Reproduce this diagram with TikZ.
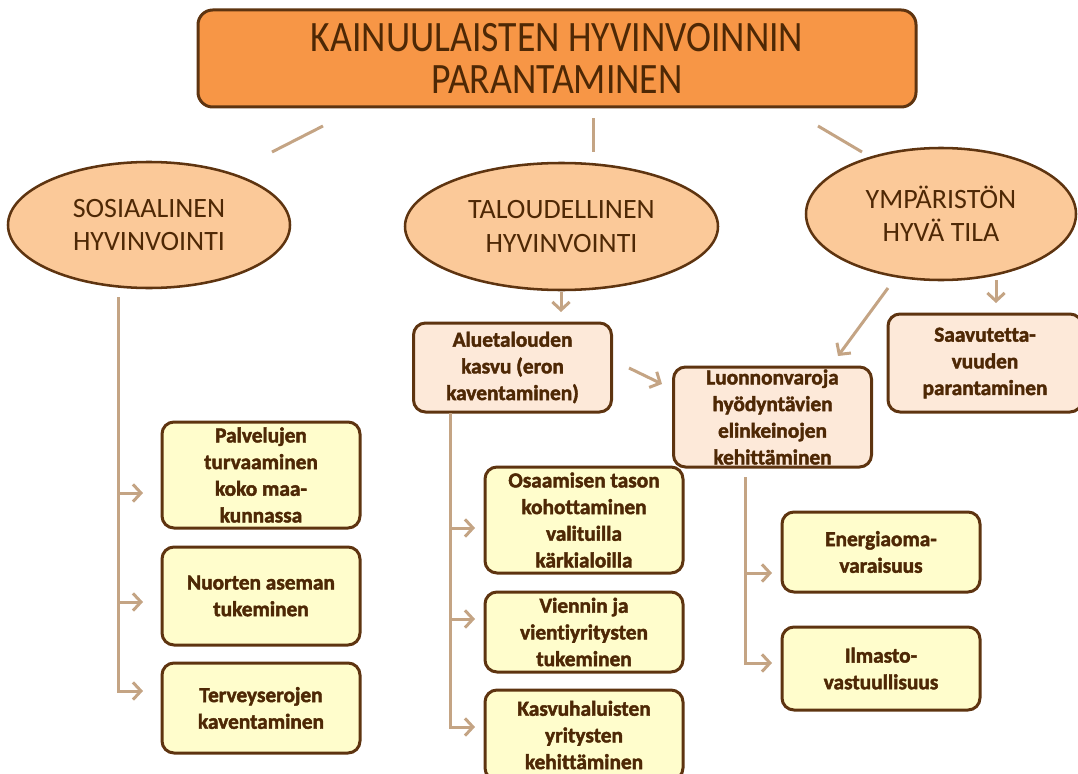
\documentclass[tikz,border=0pt]{standalone}
\usepackage{fontspec}
\setmainfont{Carlito}[Ligatures=NoCommon]
\newfontfamily\titlefont{Carlito}[FakeStretch=0.87,Ligatures=NoCommon]
\newfontfamily\boxfont{Carlito Bold}[FakeBold=2,Ligatures=NoCommon]
\usetikzlibrary{shapes.geometric,arrows.meta}
\definecolor{tfill}{HTML}{F79646}
\definecolor{efill}{HTML}{FBC999}
\definecolor{pfill}{HTML}{FDE9D9}
\definecolor{yfill}{HTML}{FFFDCC}
\definecolor{dbrown}{HTML}{5E3410}
\definecolor{tbrown}{HTML}{4E2805}
\definecolor{tanc}{HTML}{C4A484}
\tikzset{
 titlebox/.style={draw=dbrown, line width=2.25pt, fill=tfill, rounded corners=11pt, inner sep=0pt, align=center, text=tbrown, font=\titlefont\fontsize{32.5}{31.5}\selectfont},
 oval/.style={ellipse, draw=dbrown, line width=1.9pt, fill=efill, inner sep=0pt, align=center, text=tbrown, font=\fontsize{21}{25}\selectfont},
 goalbox/.style={draw=dbrown, line width=2.25pt, rounded corners=9pt, inner sep=0pt, align=center, text=tbrown, font=\boxfont\fontsize{16}{20}\selectfont, minimum width=148.5pt},
 pbox/.style={goalbox, fill=pfill},
 ybox/.style={goalbox, fill=yfill},
 conn/.style={draw=tanc, line width=2.25pt},
 arr/.style={conn, -{Straight Barb[length=6pt,width=13pt]}},
}
\begin{document}
\begin{tikzpicture}[x=0.75pt,y=-0.75pt]
\useasboundingbox (0,0) rectangle (1078,774);
\clip (0,0) rectangle (1078,774);
% title
\node[titlebox, minimum width=538.5pt, minimum height=72.75pt] (title) at (557,58.5) {KAINUULAISTEN HYVINVOINNIN\\PARANTAMINEN};
% ellipses
\node[oval, minimum width=211.5pt, minimum height=94.5pt] (sos) at (149,225) {SOSIAALINEN\\HYVINVOINTI};
\node[oval, minimum width=234.75pt, minimum height=95.25pt] (tal) at (561.5,226.5) {TALOUDELLINEN\\HYVINVOINTI};
\node[oval, minimum width=202.5pt, minimum height=99pt] (ymp) at (941,214) {YMPÄRISTÖN\\HYVÄ TILA};
% second level
\node[pbox, minimum height=66.75pt] (alue) at (512.5,367.5) {Aluetalouden\\kasvu (eron\\kaventaminen)};
\node[pbox, minimum height=75pt] (luon) at (772.5,417) {Luonnonvaroja\\hyödyntävien\\elinkeinojen\\kehittäminen};
\node[pbox, minimum width=145.5pt, minimum height=73.5pt] (saav) at (985,363) {Saavutetta-\\vuuden\\parantaminen};
% yellow boxes
\node[ybox, minimum height=79.5pt] (palv) at (261,475) {Palvelujen\\turvaaminen\\koko maa-\\kunnassa};
\node[ybox, minimum height=73.5pt] (nuor) at (261,596) {Nuorten aseman\\tukeminen};
\node[ybox, minimum height=67.5pt] (terv) at (261,708) {Terveyserojen\\kaventaminen};
\node[ybox, minimum height=79.5pt] (osaa) at (584,520) {Osaamisen tason\\kohottaminen\\valituilla\\kärkialoilla};
\node[ybox, minimum height=60pt] (vien) at (584,632) {Viennin ja\\vientiyritysten\\tukeminen};
\node[ybox, minimum height=67.5pt] (kasv) at (584,735) {Kasvuhaluisten\\yritysten\\kehittäminen};
\node[ybox, minimum height=60pt] (ener) at (881,552) {Energiaoma-\\varaisuus};
\node[ybox, minimum height=62.25pt] (ilma) at (881,668.5) {Ilmasto-\\vastuullisuus};
% connector end points
\coordinate (c1s) at (323,126); \coordinate (c1e) at (272,152);
\coordinate (c2s) at (593,118); \coordinate (c2e) at (593,152);
\coordinate (c3s) at (818,126); \coordinate (c3e) at (862,152);
\coordinate (a1s) at (561,292); \coordinate (a1e) at (561,312);
\coordinate (a2s) at (629,368); \coordinate (a2e) at (662,384);
\coordinate (a3s) at (888,288); \coordinate (a3e) at (838,356);
\coordinate (a4s) at (996,280); \coordinate (a4e) at (996,303);
\coordinate (sT) at (118,297);
\coordinate (sA) at (143,493); \coordinate (sB) at (143,602); \coordinate (sC) at (143,691);
\coordinate (mT) at (450,413);
\coordinate (mA) at (475,528); \coordinate (mB) at (475,619); \coordinate (mC) at (475,727);
\coordinate (rT) at (745,477);
\coordinate (rA) at (772,573); \coordinate (rB) at (772,663);
% connectors
\draw[conn] (c1s) -- (c1e);
\draw[conn] (c2s) -- (c2e);
\draw[conn] (c3s) -- (c3e);
\draw[arr] (a1s) -- (a1e);
\draw[arr] (a2s) -- (a2e);
\draw[arr] (a3s) -- (a3e);
\draw[arr] (a4s) -- (a4e);
\draw[arr] (sT) |- (sC);
\draw[arr] (sT |- sA) -- (sA);
\draw[arr] (sT |- sB) -- (sB);
\draw[arr] (mT) |- (mC);
\draw[arr] (mT |- mA) -- (mA);
\draw[arr] (mT |- mB) -- (mB);
\draw[arr] (rT) |- (rB);
\draw[arr] (rT |- rA) -- (rA);
\end{tikzpicture}
\end{document}
